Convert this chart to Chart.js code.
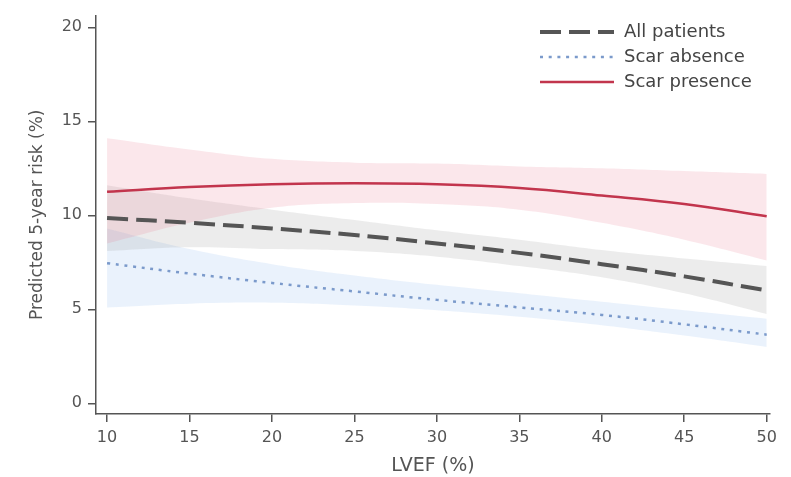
<!DOCTYPE html>
<html>
<head>
<meta charset="utf-8">
<script src="https://cdn.jsdelivr.net/npm/chart.js@4/dist/chart.umd.min.js"></script>
<style>
  html, body { margin: 0; padding: 0; background: #fff; }
  #wrap { width: 791px; height: 477px; }
</style>
</head>
<body>
<div id="wrap"><canvas id="chart"></canvas></div>
<script>
// LVEF (%) on the x axis
const lvef = [10, 15, 20, 25, 30, 35, 40, 45, 50];

// predicted 5-year risk (%)
const allPatients  = [9.85, 9.6, 9.3, 8.95, 8.5, 8.0, 7.4, 6.75, 6.0];
const scarAbsence  = [7.45, 6.9, 6.4, 5.95, 5.5, 5.1, 4.7, 4.2, 3.65];
const scarPresence = [11.25, 11.5, 11.65, 11.7, 11.65, 11.45, 11.05, 10.6, 9.95];

// confidence bands
const allUpper      = [11.6, 10.9, 10.3, 9.75, 9.2, 8.7, 8.15, 7.7, 7.3];
const allLower      = [8.1, 8.3, 8.2, 8.1, 7.8, 7.3, 6.7, 5.85, 4.75];
const absenceUpper  = [9.3, 8.2, 7.4, 6.8, 6.3, 5.85, 5.4, 4.95, 4.5];
const absenceLower  = [5.1, 5.3, 5.35, 5.2, 4.95, 4.6, 4.15, 3.6, 3.0];
const presenceUpper = [14.1, 13.5, 13.0, 12.8, 12.75, 12.6, 12.5, 12.35, 12.2];
const presenceLower = [8.5, 9.6, 10.4, 10.65, 10.6, 10.3, 9.6, 8.7, 7.6];

const xTicks = [10, 15, 20, 25, 30, 35, 40, 45, 50];
const yTicks = [0, 5, 10, 15, 20];
const legendOrder = ['All patients', 'Scar absence', 'Scar presence'];

const pts = (ys) => lvef.map((x, i) => ({ x: x, y: ys[i] }));

function line(label, ys, color, width, dash) {
  return {
    label: label, data: pts(ys), borderColor: color, borderWidth: width,
    borderDash: dash, pointRadius: 0, fill: false, tension: 0.4
  };
}
function band(ys, fillColor, fill) {
  return {
    label: '', data: pts(ys), borderWidth: 0, pointRadius: 0,
    backgroundColor: fillColor, fill: fill, tension: 0.4
  };
}

const pink = 'rgba(235, 120, 145, 0.18)';
const grey = 'rgba(140, 140, 140, 0.17)';
const blue = 'rgba(125, 175, 235, 0.16)';

// corner legend, same look as the Stata one
const cornerLegend = {
  id: 'cornerLegend',
  afterDraw(chart) {
    const ctx = chart.ctx;
    ctx.save();
    legendOrder.forEach((name, i) => {
      const ds = chart.data.datasets.find(d => d.label === name);
      const y = 32 + i * 25;
      ctx.strokeStyle = ds.borderColor;
      ctx.lineWidth = ds.borderWidth;
      ctx.setLineDash(ds.borderDash || []);
      ctx.beginPath();
      ctx.moveTo(540, y);
      ctx.lineTo(614, y);
      ctx.stroke();
      ctx.setLineDash([]);
      ctx.fillStyle = '#444';
      ctx.font = '18px "DejaVu Sans"';
      ctx.textBaseline = 'middle';
      ctx.fillText(name, 624, y);
    });
    ctx.restore();
  }
};

new Chart(document.getElementById('chart'), {
  type: 'line',
  data: {
    datasets: [
      line('Scar presence', scarPresence, '#c2354d', 2.5, []),
      line('All patients', allPatients, '#555555', 4, [21, 8]),
      line('Scar absence', scarAbsence, '#7b9acb', 2.5, [3, 5.7]),
      band(presenceUpper, pink, '+1'),
      band(presenceLower, pink, false),
      band(allUpper, grey, '+1'),
      band(allLower, grey, false),
      band(absenceUpper, blue, '+1'),
      band(absenceLower, blue, false)
    ]
  },
  options: {
    responsive: true,
    maintainAspectRatio: false,
    animation: false,
    layout: { padding: { top: 7, right: 21, left: 0, bottom: 0 } },
    plugins: { legend: { display: false }, tooltip: { enabled: false } },
    scales: {
      x: {
        type: 'linear', min: 9.33, max: 50.2,
        afterFit(scale) { scale.height = 63; },
        afterBuildTicks(scale) { scale.ticks = xTicks.map(v => ({ value: v })); },
        grid: { drawOnChartArea: false, tickLength: 8, color: '#555', lineWidth: 1.5 },
        border: { color: '#555', width: 1.5 },
        ticks: { padding: 6, color: '#555', font: { family: 'DejaVu Sans', size: 16 }, maxRotation: 0 },
        title: { display: true, text: 'LVEF (%)', color: '#555', padding: { top: 0, bottom: 0 },
                 font: { family: 'DejaVu Sans', size: 19 } }
      },
      y: {
        min: -0.57, max: 20.62,
        afterFit(scale) { scale.width = 96; },
        afterBuildTicks(scale) { scale.ticks = yTicks.map(v => ({ value: v })); },
        grid: { drawOnChartArea: false, tickLength: 8, color: '#555', lineWidth: 1.5 },
        border: { color: '#555', width: 1.5 },
        ticks: { padding: 6, color: '#555', font: { family: 'DejaVu Sans', size: 16 } },
        title: { display: true, text: 'Predicted 5-year risk (%)', color: '#555',
                 padding: { top: 27, bottom: 0 }, font: { family: 'DejaVu Sans', size: 17 } }
      }
    }
  },
  plugins: [cornerLegend]
});
</script>
</body>
</html>
